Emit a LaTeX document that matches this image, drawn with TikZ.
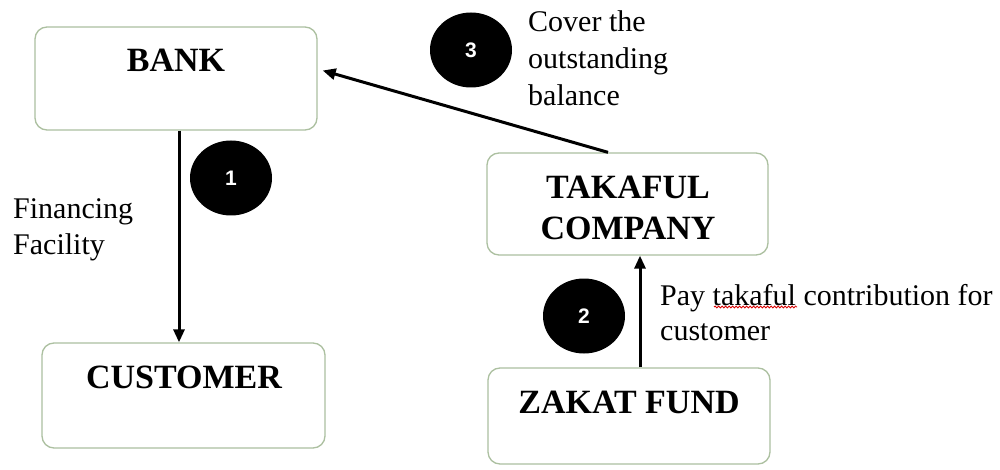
\documentclass[tikz,border=0pt]{standalone}
\usepackage{fontspec}
\setmainfont{Liberation Serif}
\newfontfamily\numfont{Liberation Sans}
\usetikzlibrary{shapes.geometric,arrows.meta,decorations.pathmorphing}
\definecolor{boxline}{RGB}{172,192,160}
\tikzset{
  box/.style={draw=boxline, line width=1.3pt, rounded corners=12pt, fill=white},
  boxtext/.style={font=\fontsize{34}{41}\selectfont\bfseries, align=center, inner sep=0pt},
  plain/.style={font=\fontsize{30}{36}\selectfont, align=left, inner sep=0pt, anchor=west},
  badge/.style={ellipse, fill=black, minimum width=82pt, minimum height=75pt, inner sep=0pt,
     text=white, font=\numfont\bfseries\fontsize{21}{24}\selectfont},
  arr/.style={draw=black, line width=3pt, -{Triangle[length=13pt,width=11pt]}}
}
\begin{document}
\begin{tikzpicture}[x=1pt,y=-1pt]
\useasboundingbox[fill=white] (0,0) rectangle (1000,470);
% boxes
\node[box, minimum width=282pt, minimum height=103pt] (bank) at (176,78.5) {};
\node[box, minimum width=283pt, minimum height=105pt] (customer) at (183.5,395.5) {};
\node[box, minimum width=281pt, minimum height=102pt] (takaful) at (627.5,204) {};
\node[box, minimum width=282pt, minimum height=96pt] (zakat) at (629,416) {};
% box labels
\node[boxtext] (bankt) at (176,60) {BANK};
\node[boxtext] (customert) at (184,377) {CUSTOMER};
\node[boxtext] (takafult) at (628,208) {TAKAFUL\\COMPANY};
\node[boxtext] (zakatt) at (629,402) {ZAKAT FUND};
% badges
\node[badge] (c1) at (231,178) {1};
\node[badge] (c2) at (584,316) {2};
\node[badge] (c3) at (471,50) {3};
% labels
\node[plain] (l1) at (13,230) {Financing\\Facility};
\node[plain, font=\fontsize{30}{37}\selectfont] (l3) at (528,58.5) {Cover the\\outstanding\\balance};
\node[plain, font=\fontsize{30}{35}\selectfont] (l2) at (660,312.5) {Pay takaful contribution for\\customer};
% spell-check squiggle
\draw[red!85!black, line width=0.8pt, decorate, decoration={snake, amplitude=1pt, segment length=3.5pt}] (714,307) -- (797,307);
% connectors
\draw[arr] (bank.south) ++(3,0) coordinate (a1s) -- (a1s |- customer.north);
\draw[arr] (zakat.north) ++(11,0) coordinate (a2s) -- (a2s |- takaful.south);
\draw[arr] (takaful.north) ++(-19.5,0) -- ([xshift=5pt,yshift=8pt]bank.east);
\end{tikzpicture}
\end{document}
